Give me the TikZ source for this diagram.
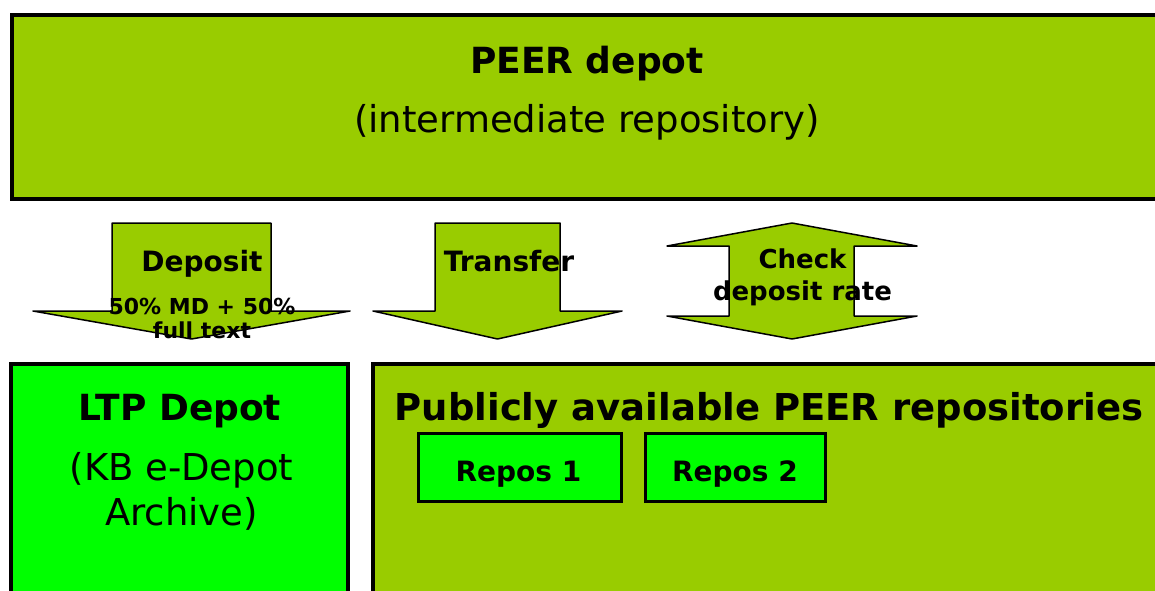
\documentclass[tikz,border=0pt]{standalone}
\usepackage{fontspec}
\setmainfont{DejaVu Sans}
\definecolor{peerolive}{HTML}{99CC00}
\definecolor{ltpgreen}{HTML}{00FF00}
\begin{document}
\begin{tikzpicture}[x=1pt,y=-1pt,
  bigbox/.style={draw=black, line width=4pt, inner sep=0pt, outer sep=0pt, anchor=north west},
  repobox/.style={draw=black, line width=3pt, fill=ltpgreen, inner sep=0pt, outer sep=0pt, anchor=north west, minimum width=203pt, minimum height=68pt},
  blockarrow/.style={draw=black, line width=1.5pt, fill=peerolive, line join=round},
  ttl/.style={font=\fontsize{36}{43}\selectfont\bfseries, inner sep=0pt, anchor=base},
  subt/.style={font=\fontsize{37}{44}\selectfont, inner sep=0pt, anchor=base},
  lbl/.style={font=\fontsize{28}{34}\selectfont\bfseries, inner sep=0pt, anchor=base},
  small/.style={font=\fontsize{22}{25}\selectfont\bfseries, inner sep=0pt, anchor=base},
  chk/.style={font=\fontsize{26}{32}\selectfont\bfseries, inner sep=0pt, anchor=base}]
\useasboundingbox (0,0) rectangle (1155,590);
\clip (0,0) rectangle (1155,590);
\fill[white] (0,0) rectangle (1155,590);

% top box
\node[bigbox, fill=peerolive, minimum width=1160pt, minimum height=184pt] (peer) at (12,15) {};
\node[ttl] (peert) at (587,73) {PEER depot};
\node[subt] (peers) at (587,132) {(intermediate repository)};

% block arrows
\draw[blockarrow] (112,223) -- (271,223) -- (271,311) -- (350,311) -- (191.5,339) -- (33,311) -- (112,311) -- cycle;
\draw[blockarrow] (435,223) -- (560,223) -- (560,311) -- (622,311) -- (497.5,339) -- (373,311) -- (435,311) -- cycle;
\draw[blockarrow] (792,223) -- (917,246) -- (854,246) -- (854,316) -- (917,316) -- (792,339) -- (667,316) -- (729,316) -- (729,246) -- (667,246) -- cycle;

\node[lbl] (dep) at (202,271) {Deposit};
\node[small] (dep2) at (202,314) {50\% MD + 50\%};
\node[small] (dep3) at (202,338) {full text};
\node[lbl] (trf) at (509,271) {Transfer};
\node[chk] (chk1) at (802.5,268) {Check};
\node[chk] (chk2) at (802.5,300) {deposit rate};

% bottom boxes
\node[bigbox, fill=ltpgreen, minimum width=337pt, minimum height=300pt] (ltp) at (11,364) {};
\node[ttl] (ltpt) at (180,420) {LTP Depot};
\node[subt] (ltps1) at (181.5,480) {(KB e-Depot};
\node[subt] (ltps2) at (181.5,525) {Archive)};

\node[bigbox, fill=peerolive, minimum width=800pt, minimum height=300pt] (pub) at (373,364) {};
\node[ttl, font=\fontsize{37}{44}\selectfont\bfseries] (pubt) at (769,420) {Publicly available PEER repositories};

\node[repobox] (r1) at (418.5,433.5) {};
\node[lbl] (r1t) at (518.5,481.5) {Repos 1};
\node[repobox, minimum width=180pt] (r2) at (645,433.5) {};
\node[lbl] (r2t) at (735,481.5) {Repos 2};
\end{tikzpicture}
\end{document}
